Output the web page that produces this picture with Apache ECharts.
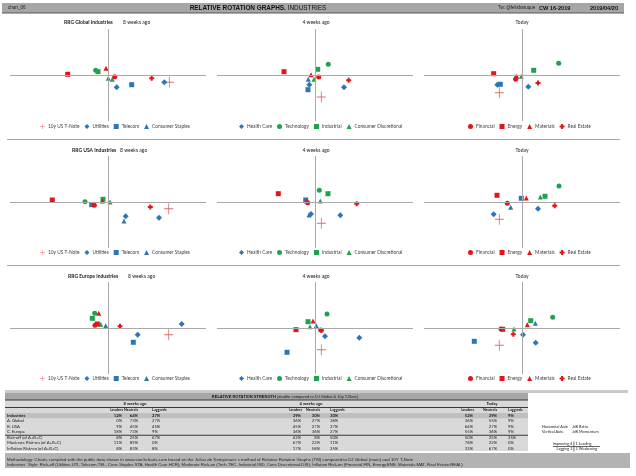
<!DOCTYPE html>
<html><head><meta charset="utf-8">
<script src="https://cdn.jsdelivr.net/npm/echarts@6/dist/echarts.min.js"></script>
<style>html,body{margin:0;padding:0;background:#fff}#c{width:636px;height:476px}</style>
</head><body><div id="c"></div>
<script>
// ---- panel order: Global 8w, Global 4w, Global Today, USA 8w, USA 4w, USA Today, Europe 8w, Europe 4w, Europe Today
const regions = ['RRG Global Industries', 'RRG USA Industries', 'RRG Europe Industries'];
const periods = ['8 weeks ago', '4 weeks ago', 'Today'];

// [JdK RS-Ratio, JdK RS-Momentum] per panel
const tNote      = [[106.13,98.54],[100.63,95.60],[97.73,96.46],[106.07,98.66],[100.63,95.74],[97.73,96.54],[106.07,98.66],[100.63,95.66],[97.73,96.54]];
const utilities  = [[105.63,98.54],[102.90,97.54],[100.63,97.66],[105.10,96.86],[102.53,97.34],[101.60,98.66],[107.37,100.80],[104.43,98.06],[101.37,97.06]];
const telecom    = [[102.37,98.06],[99.30,97.06],[97.83,98.14],[98.37,99.46],[99.07,100.40],[99.93,100.74],[102.53,97.14],[97.20,95.14],[95.23,97.34]];
const consStaples= [[100.03,99.34],[99.33,99.14],[99.33,99.60],[101.60,96.20],[99.40,97.40],[98.87,98.94],[99.77,100.46],[100.13,100.46],[101.33,100.94]];
const healthCare = [[100.87,97.54],[99.43,98.06],[97.53,98.06],[101.77,97.14],[99.60,97.60],[97.17,97.54],[102.97,98.66],[101.00,98.34],[100.10,98.66]];
const technology = [[98.77,100.94],[101.33,102.14],[103.67,102.34],[97.70,100.06],[100.43,102.34],[103.70,103.20],[98.67,102.94],[101.20,102.80],[103.07,102.14]];
const industrial = [[99.00,100.66],[100.27,101.14],[101.17,100.94],[99.50,100.54],[101.30,101.66],[102.30,101.14],[98.43,101.94],[99.30,101.26],[100.87,101.46]];
const consDisc   = [[100.43,99.14],[99.90,99.14],[99.93,99.74],[100.20,100.00],[100.53,100.20],[101.83,101.00],[99.27,100.74],[99.50,100.26],[99.20,99.80]];
const financial  = [[100.67,99.66],[100.37,99.60],[99.37,99.14],[98.63,99.34],[99.27,99.86],[98.53,99.74],[98.70,100.54],[100.57,99.60],[97.90,99.80]];
const energy     = [[95.97,100.14],[96.90,100.66],[97.17,100.26],[94.43,100.40],[96.33,101.66],[97.50,101.34],[98.93,100.80],[98.10,99.66],[98.07,99.74]];
const materials  = [[99.80,101.34],[99.60,100.06],[99.47,99.74],[99.43,100.20],[99.17,100.20],[100.43,100.80],[99.07,102.94],[99.80,101.40],[100.53,100.66]];
const realEstate = [[104.37,99.34],[103.37,98.94],[101.60,98.40],[104.23,99.00],[104.17,99.66],[103.27,99.26],[101.20,100.34],[100.65,99.50],[99.13,98.74]];

const seriesNames = ['10y US T-Note','Utilities','Telecom','Consumer Staples','Health Care','Technology','Industrial','Consumer Discretional','Financial','Energy','Materials','Real Estate'];
const seriesData = [tNote, utilities, telecom, consStaples, healthCare, technology, industrial, consDisc, financial, energy, materials, realEstate];

// table
const tableRows = ['Industries','A. Global','B. USA','C. Europe','Risk-off (of A+B+C)','Moderate Risk-on (of A+B+C)','Inflation Risk-on (of A+B+C)'];
const colHeads = ['Leaders','Neutrals','Laggards'];
const weeks8 = [['12%','64%','27%'],['0%','73%','27%'],['9%','45%','45%'],['18%','73%','9%'],['8%','25%','67%'],['11%','89%','0%'],['8%','83%','8%']];
const weeks4 = [['39%','30%','30%'],['36%','27%','36%'],['45%','27%','27%'],['36%','36%','27%'],['42%','8%','50%'],['67%','22%','11%'],['17%','58%','25%']];
const today  = [['52%','39%','9%'],['36%','55%','9%'],['64%','27%','9%'],['55%','36%','9%'],['50%','25%','25%'],['78%','22%','0%'],['33%','67%','0%']];

// ---- styles
const BLUE = '#2e75b6', GREEN = '#21a04f', RED = '#e2151b', TNOTE = '#e06a6a';
const plusThin = 'path://M4.55,0H5.45V4.55H10V5.45H5.45V10H4.55V5.45H0V4.55H4.55Z';
const plusBold = 'path://M3,0H7V3H10V7H7V10H3V7H0V3H3Z';
const styles = [
  {c: TNOTE, s: plusThin, z: [9,11]},
  {c: BLUE, s: 'diamond', z: 6},
  {c: BLUE, s: 'rect', z: 5},
  {c: BLUE, s: 'triangle', z: 5},
  {c: BLUE, s: 'diamond', z: 6},
  {c: GREEN, s: 'circle', z: 5},
  {c: GREEN, s: 'rect', z: 5},
  {c: GREEN, s: 'triangle', z: 5},
  {c: RED, s: 'circle', z: 5},
  {c: RED, s: 'rect', z: 5},
  {c: RED, s: 'triangle', z: 5},
  {c: RED, s: plusBold, z: 5}
];

const colCenters = [108, 315, 522];
const rowAxisY = [75, 202, 328];
const CAL = 'Lato', ARI = 'Liberation Sans';

const grids = [], xAxes = [], yAxes = [], series = [], legends = [];
for (let r = 0; r < 3; r++) {
  for (let c = 0; c < 3; c++) {
    const p = r * 3 + c;
    grids.push({left: colCenters[c] - 98, width: 196, top: rowAxisY[r] - 46, height: 92});
    xAxes.push({type: 'value', gridIndex: p, min: 90.2, max: 109.8, show: false});
    yAxes.push({type: 'value', gridIndex: p, min: 90.8, max: 109.2, show: false});
    seriesData.forEach((arr, i) => {
      const st = styles[i];
      const s = {
        type: 'scatter', name: seriesNames[i], xAxisIndex: p, yAxisIndex: p,
        data: [arr[p]], symbol: st.s, symbolSize: st.z,
        itemStyle: {color: st.c, opacity: 1}, z: i === 0 ? 2 : 3, silent: true, animation: false
      };
      if (i === 0) {
        s.markLine = {silent: true, symbol: 'none', animation: false, label: {show: false},
          lineStyle: {color: '#a9a9a9', width: 1, type: 'solid'},
          data: [{xAxis: 100}, {yAxis: 100}]};
      }
      series.push(s);
    });
  }
}
const legendStarts = [40, 239, 468];
const legendTops = [127, 253, 379];
for (let r = 0; r < 3; r++) {
  for (let c = 0; c < 3; c++) {
    legends.push({
      left: legendStarts[c], top: legendTops[r] - 3, padding: 0, itemGap: 5,
      itemWidth: 5, itemHeight: 5, selectedMode: false,
      textStyle: {fontSize: 4.8, fontFamily: CAL, color: '#404040', padding: [0, 0, 0, -2]},
      data: seriesNames.slice(c * 4, c * 4 + 4)
    });
  }
}

// ---- graphics
const G = [];
function rect(x, y, w, h, fill) { G.push({type: 'rect', silent: true, shape: {x, y, width: w, height: h}, style: {fill}}); }
function txt(x, y, text, size, opt) {
  opt = opt || {};
  G.push({type: 'text', silent: true, z: 10, style: {
    x, y, text, fontSize: size, fontFamily: opt.f || CAL, fontWeight: opt.b ? 'bold' : 'normal',
    fill: opt.fill || '#1a1a1a', align: opt.a || 'left', verticalAlign: 'middle',
    textAlign: opt.a || 'left', textVerticalAlign: 'middle', rich: opt.rich
  }});
}

// header
rect(2, 3, 622, 10, '#a6a6a6');
rect(2, 12.5, 622, 1, '#595959');
txt(8, 8, 'chart_06', 4.5, {f: ARI, fill: '#222'});
txt(258, 8, '{b|RELATIVE ROTATION GRAPHS.} INDUSTRIES', 6.4, {f: ARI, a: 'center', fill: '#111',
  rich: {b: {fontWeight: 'bold', fontSize: 6.4, fontFamily: ARI, fill: '#111'}}});
txt(498, 8, 'Tw: @felixbaruque', 4.5, {f: ARI, fill: '#222'});
txt(539, 8, 'CW 16-2019', 5.6, {f: ARI, b: true, fill: '#111'});
txt(590, 8, '2019/04/20', 5.6, {f: ARI, b: true, fill: '#111'});

// panel titles
const titleY = [22, 150, 276];
const regX = [64, 72, 68], perX = [123, 120, 128];
for (let r = 0; r < 3; r++) {
  txt(regX[r], titleY[r], regions[r], 5, {b: true});
  txt(perX[r], titleY[r], periods[0], 5, {});
  txt(316, titleY[r], periods[1], 5, {a: 'center'});
  txt(522, titleY[r], periods[2], 5, {a: 'center'});
}
// row separators
rect(7, 139, 613, 1, '#a8a8a8');
rect(7, 265, 613, 1, '#a8a8a8');

// table
const TF = 4.2, HF = 3.7;
rect(5, 390, 623, 3, '#cacaca');
rect(5, 393, 523, 7, '#a6a6a6');
txt(285, 396.8, '{b|RELATIVE ROTATION STRENGTH} (double compared to DJ Global & 10y T-Note)', 4.0, {f: ARI, a: 'center',
  rich: {b: {fontWeight: 'bold', fontSize: 4.0, fontFamily: ARI, fill: '#1a1a1a'}}});
rect(5, 400, 523, 51, '#d9d9d9');
rect(5, 413, 523, 5.3, '#bfbfbf');
rect(5, 399.6, 523, 0.9, '#3a3a3a');
rect(5, 407, 523, 0.9, '#3a3a3a');
rect(5, 434.8, 523, 0.9, '#3a3a3a');
txt(135, 403.8, periods[0], 4.2, {b: true, a: 'center'});
txt(311, 403.8, periods[1], 4.2, {b: true, a: 'center'});
txt(492, 403.8, periods[2], 4.2, {b: true, a: 'center'});
const groupCols = [[122, 138, 152], [301, 320, 330], [473, 497, 508]];
const groupData = [weeks8, weeks4, today];
const rowY = [415.6, 421.1, 426.5, 432.0, 437.7, 443.1, 448.6];
groupCols.forEach((cols, g) => {
  colHeads.forEach((h, k) => txt(cols[k] + (k === 0 ? 1 : 0), 410.3, h, HF, {b: true, a: k < 2 ? 'right' : 'left'}));
  tableRows.forEach((rw, i) => {
    groupData[g][i].forEach((v, k) => txt(cols[k], rowY[i], v, TF, {b: i === 0, a: k < 2 ? 'right' : 'left'}));
  });
});
tableRows.forEach((rw, i) => txt(7, rowY[i], rw, TF, {b: i === 0}));

// axis info & quadrant legend
const IF = 3.8;
txt(542, 427, 'Horizontal Axis:', IF, {});
txt(572, 427, 'JdK Ratio', IF, {});
txt(542, 432, 'Vertical Axis:', IF, {});
txt(572, 432, 'JdK Momentum', IF, {});
txt(572.5, 443.8, 'Improving 4', IF, {a: 'right'});
txt(575.5, 443.8, '1 Leading', IF, {});
txt(572.5, 449.2, 'Lagging 3', IF, {a: 'right'});
txt(575.5, 449.2, '2 Weakening', IF, {});
rect(573.6, 441.5, 0.7, 10, '#333');
rect(553, 446.3, 47, 0.7, '#333');

// methodology box
rect(5, 453, 625, 15, '#b3b3b3');
txt(7, 459.5, 'Methodology: Charts compiled with the public data shown in www.stockcharts.com based on the Julius de Kempenaer\u00b4s method of Relative Rotation Graphs (TM) compared to DJ Global (main) and 10Y T-Note', 4.4, {f: ARI, fill: '#1f1f1f'});
txt(7, 464.8, 'Industries\u00b4 Style: Risk-off (Utilities.UTI, Telecom.TEL, Cons Staples.STA, Health Care.HCR); Moderate Risk-on (Tech.TEC, Industrial.IND, Cons Discretional.DIS); Inflation Risk-on (Financial.FIN, Energy.ENE, Materials.MAT, Real Estate.REAL)', 4.25, {f: ARI, fill: '#1f1f1f'});

const chart = echarts.init(document.getElementById('c'), null, {renderer: 'canvas'});
chart.setOption({
  animation: false,
  backgroundColor: '#ffffff',
  grid: grids, xAxis: xAxes, yAxis: yAxes,
  legend: legends,
  series: series,
  graphic: {elements: G}
});
</script>
</body></html>
